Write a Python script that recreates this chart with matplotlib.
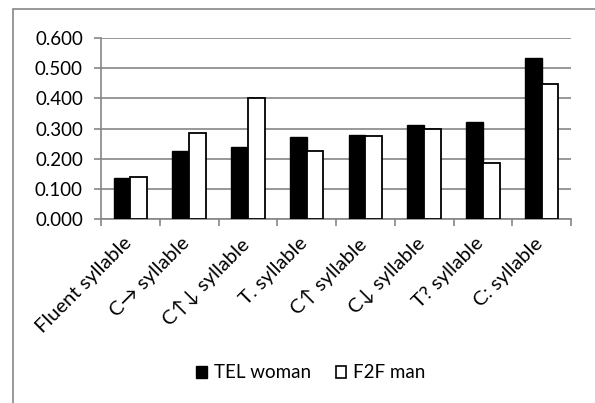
import matplotlib
matplotlib.use("Agg")
import matplotlib.pyplot as plt
from matplotlib.patches import Rectangle, Patch
import matplotlib.transforms as mtransforms
import numpy as np

categories = ["Fluent syllable", "C\u2192 syllable", "C\u2191\u2193 syllable", "T. syllable",
              "C\u2191 syllable", "C\u2193 syllable", "T? syllable", "C: syllable"]
tel_woman = [0.135, 0.226, 0.238, 0.273, 0.279, 0.310, 0.321, 0.533]
f2f_man = [0.139, 0.285, 0.401, 0.226, 0.274, 0.299, 0.186, 0.447]
series_names = ["TEL woman", "F2F man"]
yticks = [0.0, 0.1, 0.2, 0.3, 0.4, 0.5, 0.6]

plt.rcParams['font.family'] = ['Lato', 'DejaVu Sans']

W, H = 595, 403
fig = plt.figure(figsize=(W / 100, H / 100), dpi=100)
ax = fig.add_axes([101 / W, 1 - 219.3 / H, 470 / W, (219.3 - 37.7) / H])

grid_c = '#868686'
x = np.arange(len(categories))
bw = 0.286
ax.bar(x - bw / 2, tel_woman, bw, color='black', edgecolor='black', linewidth=1, zorder=3)
ax.bar(x + bw / 2, f2f_man, bw, color='white', edgecolor='black', linewidth=1.3, zorder=3)

ax.set_xlim(-0.5, len(categories) - 0.5)
ax.set_ylim(0, 0.6)
ax.set_yticks(yticks)
ax.set_yticklabels([f"{v:.3f}" for v in yticks], fontsize=13.5)
ax.yaxis.grid(True, color=grid_c, linewidth=1.2, zorder=0)
ax.set_axisbelow(True)

ax.set_xticks(np.arange(len(categories) + 1) - 0.5, minor=False)
ax.set_xticklabels([])
ax.set_xticks(x, minor=True)
ax.set_xticklabels(categories, minor=True, rotation=45, ha='right', rotation_mode='anchor', fontsize=14.5)
ax.tick_params(axis='x', which='minor', length=0, pad=11)
ax.tick_params(axis='x', which='major', length=5, color=grid_c, width=1.2)
ax.tick_params(axis='y', length=5, color=grid_c, width=1.2, pad=8)
shift = mtransforms.ScaledTranslation(-8 / 100, 0, fig.dpi_scale_trans)
for lbl in ax.get_xticklabels(minor=True):
    lbl.set_transform(lbl.get_transform() + shift)

for s in ['top', 'right']:
    ax.spines[s].set_visible(False)
for s in ['left', 'bottom']:
    ax.spines[s].set_color(grid_c)
    ax.spines[s].set_linewidth(1.2)

handles = [Patch(facecolor='black', edgecolor='black'),
           Patch(facecolor='white', edgecolor='black', linewidth=1.2)]
fig.legend(handles, series_names, loc='center', bbox_to_anchor=(311 / W, 1 - 373 / H),
           ncol=2, frameon=False, fontsize=13.5, handlelength=0.55, handleheight=0.6,
           handletextpad=0.4, columnspacing=1.3)

border = Rectangle((13 / W, -0.05), 1.1, 1 - 9.3 / H + 0.05, transform=fig.transFigure,
                   fill=False, edgecolor=grid_c, linewidth=1.2, clip_on=False)
fig.patches.append(border)

fig.savefig("out.png", dpi=100)
